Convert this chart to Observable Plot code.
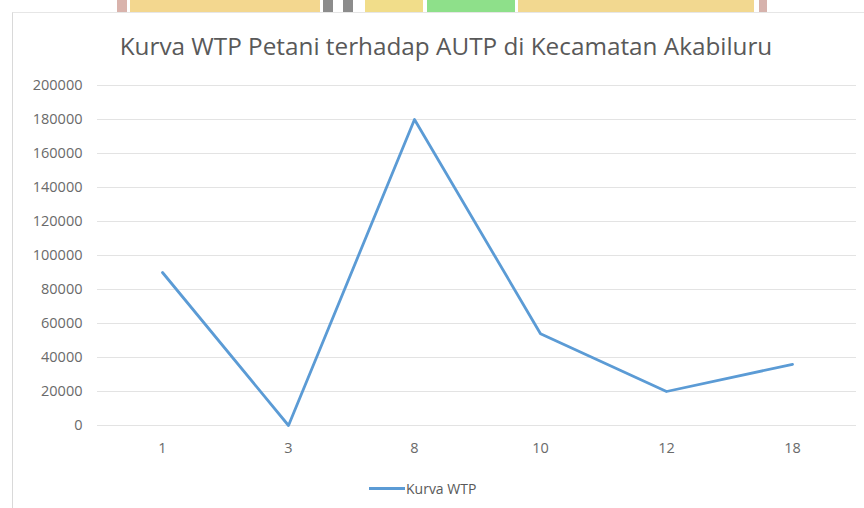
<!DOCTYPE html>
<html>
<head>
<meta charset="utf-8">
<script src="https://cdn.jsdelivr.net/npm/d3@7"></script>
<script src="https://cdn.jsdelivr.net/npm/@observablehq/plot@0.6"></script>
<style>
  html, body { margin: 0; padding: 0; background: #fff; }
  #wrap { position: relative; width: 864px; height: 508px; overflow: hidden; font-family: "Open Sans", sans-serif; }
  .deco { position: absolute; top: 0; height: 12px; }
  #frame { position: absolute; left: 12px; top: 12px; width: 860px; height: 500px; border-left: 1px solid #d9d9d9; border-top: 1px solid #e6e6e6; background: #fff; }
  #title { position: absolute; left: 0; top: 29px; width: 892px; text-align: center; font-size: 24.3px; color: #595959; }
  #chart { position: absolute; left: 0; top: 0; }
  #legend { position: absolute; left: 369px; top: 479px; font-size: 14px; color: #595959; display: flex; align-items: center; }
  #legend .sw { width: 36px; height: 3px; background: #5B9BD5; margin-right: 1px; }
</style>
</head>
<body>
<div id="wrap">
  <div class="deco" style="left:117px;width:10px;background:#d9b3ac"></div>
  <div class="deco" style="left:130px;width:190px;background:#f3d78f"></div>
  <div class="deco" style="left:323px;width:10px;background:#8c8c8c"></div>
  <div class="deco" style="left:343px;width:10px;background:#8c8c8c"></div>
  <div class="deco" style="left:365px;width:58px;background:#f1dd8a"></div>
  <div class="deco" style="left:427px;width:88px;background:#8ee08a"></div>
  <div class="deco" style="left:518px;width:236px;background:#f2d890"></div>
  <div class="deco" style="left:759px;width:8px;background:#d6b2ac"></div>
  <div id="frame"></div>
  <div id="title">Kurva WTP Petani terhadap AUTP di Kecamatan Akabiluru</div>
  <div id="chart"></div>
  <div id="legend"><span class="sw"></span><span>Kurva WTP</span></div>
</div>
<script>
const categories = ["1", "3", "8", "10", "12", "18"];
const wtpValues = [90000, 0, 180000, 54000, 20000, 36000];
const yTicks = [0, 20000, 40000, 60000, 80000, 100000, 120000, 140000, 160000, 180000, 200000];

const data = categories.map((c, i) => ({category: c, value: wtpValues[i]}));

const chart = Plot.plot({
  width: 864,
  height: 460,
  marginTop: 85,
  marginBottom: 35,
  marginLeft: 97,
  marginRight: 8,
  style: {background: "transparent", fontFamily: "Open Sans, sans-serif", fontSize: "14.5px", color: "#595959"},
  x: {type: "point", domain: categories, padding: 0.5, label: null},
  y: {domain: [0, 200000], label: null},
  marks: [
    Plot.gridY(yTicks, {stroke: "#e3e3e3", strokeOpacity: 1, strokeWidth: 1.2}),
    Plot.axisY(yTicks, {tickSize: 0, tickPadding: 15, tickFormat: d => String(d), fill: "#6a6a6a", label: null}),
    Plot.axisX({tickSize: 0, tickPadding: 17, fill: "#6a6a6a", label: null}),
    Plot.line(data, {x: "category", y: "value", stroke: "#5B9BD5", strokeWidth: 2.8, strokeLinejoin: "round"})
  ]
});
document.getElementById("chart").appendChild(chart);
</script>
</body>
</html>
